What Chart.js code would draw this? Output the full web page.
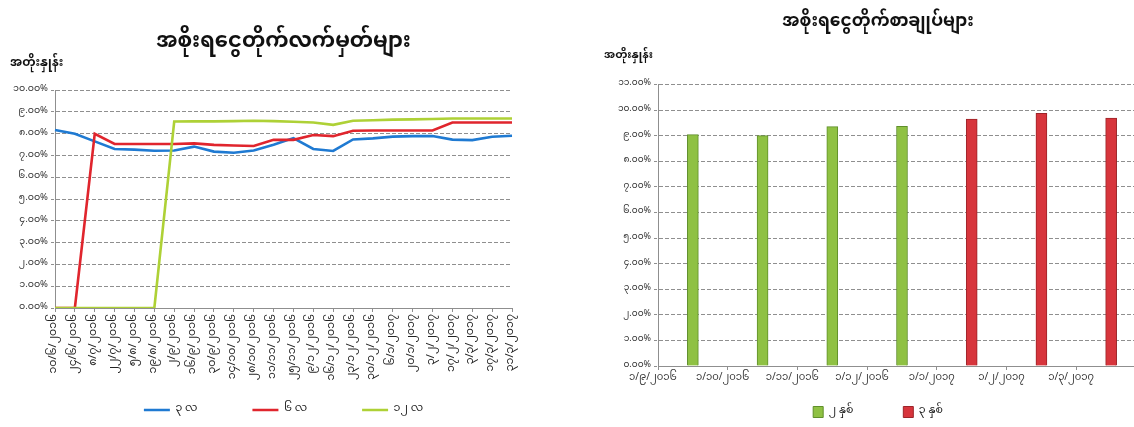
<!DOCTYPE html>
<html>
<head>
<meta charset="utf-8">
<script src="https://cdn.jsdelivr.net/npm/chart.js@4"></script>
<style>
html,body{margin:0;padding:0;background:#fff;overflow:hidden;width:1134px;height:427px;position:relative;}
#w1{position:absolute;left:0;top:0;width:560px;height:427px;}
#w2{position:absolute;left:580px;top:0;width:570px;height:427px;}
</style>
</head>
<body>
<div id="w1"><canvas id="c1"></canvas></div>
<div id="w2"><canvas id="c2"></canvas></div>
<script>
const MY_FONT = "'Noto Sans Myanmar', 'Padauk', 'Myanmar Text', 'Myanmar3', 'Noto Sans', sans-serif";
Chart.defaults.font.family = MY_FONT;
Chart.defaults.color = '#222';

// ---------- Treasury bills (left) ----------
const billTitle = 'အစိုးရငွေတိုက်လက်မှတ်များ';
const rateLabel = 'အတိုးနှုန်း';
const billSeriesNames = ['၃ လ', '၆ လ', '၁၂ လ'];
const billDates = [
  '၁၀/၆/၂၀၁၆','၂၄/၆/၂၀၁၆','၈/၇/၂၀၁၆','၂၂/၇/၂၀၁၆','၅/၈/၂၀၁၆','၁၉/၈/၂၀၁၆',
  '၂/၉/၂၀၁၆','၁၆/၉/၂၀၁၆','၃၀/၉/၂၀၁၆','၁၄/၁၀/၂၀၁၆','၂၈/၁၀/၂၀၁၆','၁၁/၁၁/၂၀၁၆',
  '၂၅/၁၁/၂၀၁၆','၉/၁၂/၂၀၁၆','၁၆/၁၂/၂၀၁၆','၂၃/၁၂/၂၀၁၆','၃၀/၁၂/၂၀၁၆',
  '၆/၁/၂၀၁၇','၂၀/၁/၂၀၁၇','၃/၂/၂၀၁၇','၁၇/၂/၂၀၁၇','၃/၃/၂၀၁၇','၁၇/၃/၂၀၁၇','၃၁/၃/၂၀၁၇'
];
const bill3m  = [8.17, 8.00, 7.65, 7.30, 7.27, 7.22, 7.23, 7.41, 7.18, 7.13, 7.23, 7.50,
                 7.80, 7.30, 7.21, 7.74, 7.79, 7.87, 7.89, 7.90, 7.73, 7.71, 7.86, 7.91];
const bill6m  = [0, 0, 8.00, 7.53, 7.53, 7.53, 7.53, 7.56, 7.49, 7.46, 7.44, 7.72,
                 7.72, 7.94, 7.89, 8.14, 8.15, 8.15, 8.15, 8.15, 8.52, 8.52, 8.52, 8.52];
const bill12m = [0, 0, 0, 0, 0, 0, 8.56, 8.57, 8.57, 8.58, 8.60, 8.58,
                 8.55, 8.52, 8.41, 8.60, 8.62, 8.65, 8.66, 8.68, 8.70, 8.70, 8.70, 8.70];
const billTicks = ['၀.၀၀%','၁.၀၀%','၂.၀၀%','၃.၀၀%','၄.၀၀%','၅.၀၀%','၆.၀၀%','၇.၀၀%','၈.၀၀%','၉.၀၀%','၁၀.၀၀%'];

// ---------- Treasury bonds (right) ----------
const bondTitle = 'အစိုးရငွေတိုက်စာချုပ်များ';
const bondSeriesNames = ['၂ နှစ်', '၃ နှစ်'];
const bondDates = ['၁/၉/၂၀၁၆','၁/၁၀/၂၀၁၆','၁/၁၁/၂၀၁၆','၁/၁၂/၂၀၁၆','၁/၁/၂၀၁၇','၁/၂/၂၀၁၇','၁/၃/၂၀၁၇'];
const bond2y = [9.04, 9.00, 9.35, 9.36, null, null, null];
const bond3y = [null, null, null, null, 9.65, 9.87, 9.68];
const bondTicks = ['၀.၀၀%','၁.၀၀%','၂.၀၀%','၃.၀၀%','၄.၀၀%','၅.၀၀%','၆.၀၀%','၇.၀၀%','၈.၀၀%','၉.၀၀%','၁၀.၀၀%','၁၁.၀၀%'];

// ---------- helpers ----------
const axisCaption = {
  id: 'axisCaption',
  afterDraw(chart, args, o) {
    const ctx = chart.ctx;
    ctx.save();
    ctx.font = 'bold ' + o.size + 'px ' + MY_FONT;
    ctx.fillStyle = o.color || '#111';
    ctx.textAlign = 'left';
    ctx.textBaseline = 'middle';
    ctx.fillText(o.text, o.x, o.y);
    ctx.restore();
  }
};
// puts the legend row at a chosen height (legend padding doubles as the gap between items)
const legendPlace = {
  id: 'legendPlace',
  afterLayout(chart, args, o) {
    const lg = chart.legend;
    if (!lg) return;
    const pad = lg.options.labels.padding;
    const fs = lg.options.labels.font.size;
    const bh = lg.options.labels.boxHeight || 0;
    const ih = Math.max(fs, bh);
    lg.top = o.centerY - pad - ih / 2;
    lg.bottom = o.centerY + ih / 2 + 8;
    lg.height = lg.bottom - lg.top;
  }
};
const GRID = '#8f8f8f';

// ---------- left chart ----------
new Chart(document.getElementById('c1'), {
  type: 'line',
  data: {
    labels: billDates,
    datasets: [
      { label: billSeriesNames[0], data: bill3m, borderColor: '#1f7ad2', backgroundColor: '#1f7ad2', order: 2 },
      { label: billSeriesNames[1], data: bill6m, borderColor: '#e0252d', backgroundColor: '#e0252d', order: 1 },
      { label: billSeriesNames[2], data: bill12m, borderColor: '#aed136', backgroundColor: '#aed136', order: 0 }
    ]
  },
  options: {
    responsive: true, maintainAspectRatio: false, animation: false,
    layout: { padding: { left: 5, right: 48, top: 0, bottom: 0 } },
    elements: { line: { borderWidth: 2.6, tension: 0 }, point: { radius: 0 } },
    plugins: {
      title: { display: true, fullSize: false, text: billTitle, color: '#111',
               font: { size: 21, weight: 'bold' }, padding: { top: 32, bottom: 33 } },
      legend: {
        position: 'bottom', fullSize: false, maxHeight: 40,
        labels: { boxWidth: 26, boxHeight: 0, padding: 55, font: { size: 11 }, color: '#222',
                  sort: (a, b) => a.datasetIndex - b.datasetIndex }
      },
      tooltip: { enabled: false },
      axisCaption: { text: rateLabel, x: 10, y: 65, size: 12 },
      legendPlace: { centerY: 410 }
    },
    scales: {
      x: {
        afterFit: s => { s.height = 79; },
        grid: { drawOnChartArea: false, drawTicks: true, tickLength: 4, color: GRID },
        border: { color: GRID },
        ticks: { autoSkip: false, maxRotation: 90, minRotation: 90, padding: 2,
                 font: { size: 11 }, color: '#222' }
      },
      y: {
        min: 0, max: 10,
        afterFit: s => { s.width = 50; },
        grid: { color: GRID, tickLength: 4, tickBorderDash: [3, 2] },
        border: { color: GRID, dash: [4, 2] },
        ticks: { stepSize: 1, padding: 3, font: { size: 9.5 }, color: '#333',
                 callback: v => billTicks[Math.round(v)] }
      }
    }
  },
  plugins: [axisCaption, legendPlace]
});

// ---------- right chart ----------
new Chart(document.getElementById('c2'), {
  type: 'bar',
  data: {
    labels: bondDates,
    datasets: [
      { label: bondSeriesNames[0], data: bond2y, backgroundColor: '#8fc143', borderColor: '#5f8f2a', borderWidth: 1 },
      { label: bondSeriesNames[1], data: bond3y, backgroundColor: '#d7353c', borderColor: '#9c2429', borderWidth: 1 }
    ]
  },
  options: {
    responsive: true, maintainAspectRatio: false, animation: false,
    layout: { padding: { left: 30, right: 4, top: 0, bottom: 0 } },
    datasets: { bar: { grouped: false, barThickness: 11 } },
    plugins: {
      title: { display: true, text: bondTitle, color: '#111',
               font: { size: 17, weight: 'bold' }, padding: { top: 14, bottom: 50 } },
      legend: {
        position: 'bottom', maxHeight: 40,
        labels: { boxWidth: 10, boxHeight: 11, padding: 50, font: { size: 11 }, color: '#222' }
      },
      tooltip: { enabled: false },
      axisCaption: { text: rateLabel, x: 24, y: 57, size: 11 },
      legendPlace: { centerY: 412 }
    },
    scales: {
      x: {
        afterFit: s => { s.height = 21; },
        grid: { drawOnChartArea: false, drawTicks: true, tickLength: 4, color: GRID },
        border: { color: GRID },
        ticks: { labelOffset: -40, padding: 3, maxRotation: 0, autoSkip: false,
                 font: { size: 10 }, color: '#333' }
      },
      y: {
        min: 0, max: 11,
        afterFit: s => { s.width = 48; },
        grid: { color: GRID, tickLength: 4, tickBorderDash: [3, 2] },
        border: { color: GRID, dash: [4, 2] },
        ticks: { stepSize: 1, padding: 3, font: { size: 9 }, color: '#333',
                 callback: v => bondTicks[Math.round(v)] }
      }
    }
  },
  plugins: [axisCaption, legendPlace]
});
</script>
</body>
</html>
